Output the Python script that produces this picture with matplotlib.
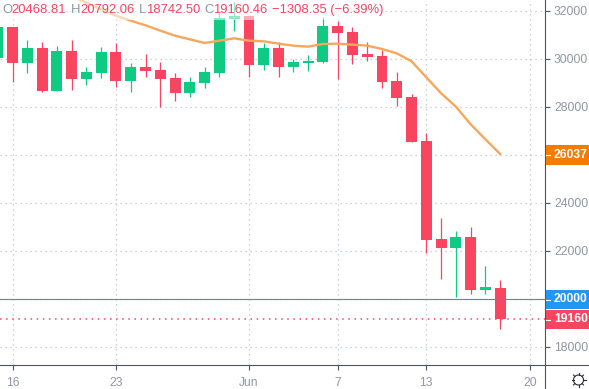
import numpy as np
import matplotlib
matplotlib.use('Agg')
import matplotlib.pyplot as plt
from matplotlib.patches import Rectangle

plt.rcParams['font.family'] = ['Liberation Sans', 'DejaVu Sans']

W, H = 589, 389
GREEN = '#0ecb81'
RED = '#f9455f'
GRAY = '#8f96a6'
AXIS = '#50535e'

# days counted from May 16
days = np.arange(-1, 34)
opens = [30054, 31346, 29846, 30458, 28680, 30333, 29180, 29430, 30292, 29096, 29667, 29542,
         29208, 28596, 29013, 29430, 31680, 31792, 29763, 30458, 29680, 29846, 29875, 31375,
         31125, 30208, 30125, 29083, 28417, 26583, 22500, 22125, 22583, 20375, 20468.81]
closes = [31346, 29846, 30458, 28680, 30333, 29180, 29458, 30292, 29096, 29667, 29512, 29180,
          28596, 29029, 29458, 31695, 31792, 29763, 30458, 29680, 29875, 29917, 31375, 31096,
          30179, 30096, 29042, 28375, 26542, 22458, 22125, 22583, 20375, 20500, 19160.46]
highs = [31346, 31346, 30792, 30708, 30542, 30792, 29680, 30513, 30680, 29846, 30208, 29875,
         29417, 29237, 29680, 31917, 32375, 31792, 30680, 30708, 30000, 30167, 31750, 31583,
         31321, 30708, 30375, 29458, 28528, 26917, 23375, 22833, 23000, 21375, 20792.06]
lows = [30054, 29042, 29430, 28625, 28680, 28708, 28930, 29208, 28846, 28638, 29263, 28013,
        28263, 28417, 28805, 29263, 31180, 29250, 29542, 29250, 29470, 29513, 29846, 29167,
        29792, 29917, 28792, 28042, 26542, 21904, 20833, 20083, 20208, 20208, 18742.5]

ma_days = np.arange(4, 34)
ma_vals = [32625, 32347, 32069, 31806, 31597, 31403, 31181, 30972, 30819, 30667, 30764, 30861,
           30764, 30736, 30639, 30556, 30514, 30625, 30639, 30597, 30556, 30417, 30236, 29903,
           29236, 28570, 28014, 27278, 26653, 26037]

y_ticks = [18000, 20000, 22000, 24000, 26000, 28000, 30000, 32000]
x_ticks = [0, 7, 16, 22, 28, 35]
x_labels = ['16', '23', 'Jun', '7', '13', '20']

fig = plt.figure(figsize=(W / 100, H / 100), dpi=100)
ax = fig.add_axes([0, 24 / H, 545 / W, 365 / H])
ax.set_xlim(-0.846, 36.03)
ax.set_ylim(17250, 32458)


def px(x, y):
    # pixel position from top left to figure fraction
    return x / W, 1 - y / H


def fig_line(x0, y0, x1, y1, color=AXIS, lw=1.0):
    p0, p1 = px(x0, y0), px(x1, y1)
    fig.add_artist(plt.Line2D([p0[0], p1[0]], [p0[1], p1[1]], color=color, lw=lw,
                              transform=fig.transFigure))


ax.grid(True, color='#bfc3cb', linestyle=(0, (1, 3)), linewidth=0.9)
ax.set_axisbelow(True)

colors = [GREEN if c >= o else RED for o, c in zip(opens, closes)]
ax.vlines(days, lows, highs, colors=colors, linewidth=0.9, zorder=2)
bottoms = np.minimum(opens, closes)
heights = np.abs(np.array(closes) - np.array(opens))
ax.bar(days, heights, 0.74, bottom=bottoms, color=colors, zorder=3)

ax.plot(ma_days, ma_vals, color='#f7a75c', lw=1.7, zorder=4)

ax.axhline(20000, color='#2196f3', lw=0.8, zorder=4)
ax.axhline(19160.46, color=RED, lw=1.1, linestyle=(0, (1, 3)), zorder=4)

for s in ['top', 'left']:
    ax.spines[s].set_visible(False)
ax.spines['right'].set_color(AXIS)
ax.spines['bottom'].set_color(AXIS)
ax.yaxis.tick_right()
ax.set_yticks(y_ticks)
ax.set_xticks(x_ticks, x_labels)
ax.tick_params(axis='both', colors=AXIS, length=3.5, width=0.8, labelcolor=GRAY, labelsize=8.7, pad=3)
ax.tick_params(axis='x', pad=5)

# axis lines carry on into the corner box
fig_line(545, 365, 589, 365, lw=0.8)
fig_line(545, 365, 545, 389, lw=0.8)

# faded strip behind the legend text
ax.add_patch(Rectangle((0, 1 - 20 / 365), 379 / 545, 20 / 365, transform=ax.transAxes,
                       facecolor='white', alpha=0.55, edgecolor='none', zorder=5))

legend_parts = [(2, 'O', GRAY), (11, '20468.81', RED), (71, 'H', GRAY), (80, '20792.06', RED),
                (139, 'L', GRAY), (146, '18742.50', RED), (204, 'C', GRAY), (213, '19160.46', RED),
                (272, '\u22121308.35 (\u22126.39%)', RED)]
for x, s, c in legend_parts:
    fx, fy = px(x, 10)
    fig.text(fx, fy, s, color=c, fontsize=9.4, va='center', ha='left', zorder=6)

# price tags on the right axis
price_tags = [(145, 165, '26037', '#f57c00'), (290, 309, '20000', '#2196f3'), (310, 329, '19160', RED)]
for top, bot, s, c in price_tags:
    fx, fy = px(545.5, bot)
    fig.add_artist(Rectangle((fx, fy), 44 / W, (bot - top) / H, transform=fig.transFigure,
                             facecolor=c, edgecolor='none'))
    fig_line(546, (top + bot) / 2, 550, (top + bot) / 2, color='white', lw=0.8)
    fx, fy = px(554, (top + bot) / 2)
    fig.text(fx, fy, s, color='white', fontsize=8.7, fontweight='bold', va='center', ha='left')

# settings gear
gx, gy = 578.5, 380
for a in np.radians(np.arange(0, 360, 45)):
    fig_line(gx + 5 * np.cos(a), gy + 5 * np.sin(a), gx + 7 * np.cos(a), gy + 7 * np.sin(a),
             color='#2a2e39', lw=0.8)
pts = [px(gx + 5 * np.cos(t), gy + 5 * np.sin(t)) for t in np.linspace(0, 2 * np.pi, 40)]
fig.add_artist(plt.Line2D([p[0] for p in pts], [p[1] for p in pts], color='#2a2e39', lw=0.8,
                          transform=fig.transFigure))

fig.savefig('out.png', dpi=100)
